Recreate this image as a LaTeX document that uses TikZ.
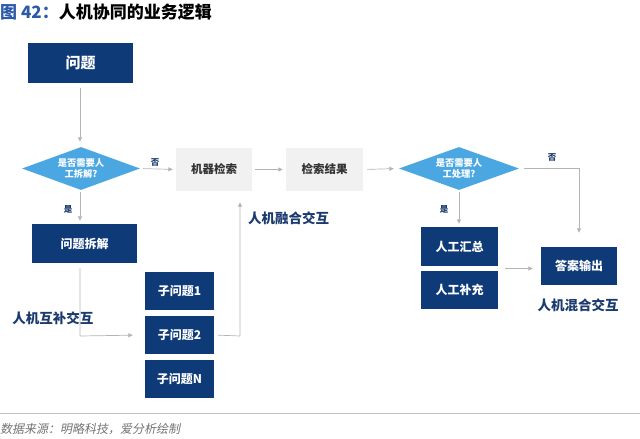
\documentclass[tikz,border=0pt]{standalone}
\usepackage{fontspec}
\setmainfont{Noto Sans CJK SC}
\newfontfamily\cjkit[FakeSlant=0.2]{Noto Sans CJK SC}
\usetikzlibrary{shapes.geometric,arrows.meta,calc}
\definecolor{navy}{HTML}{0E3B78}
\definecolor{dlblue}{HTML}{4BA7E1}
\definecolor{gbox}{HTML}{F1F1F1}
\definecolor{arrg}{HTML}{B4B4B4}
\definecolor{lblue}{HTML}{1B3A6E}
\definecolor{ttlblue}{HTML}{2B5BA8}
\begin{document}
\begin{tikzpicture}[x=1pt,y=-1pt,
  nbox/.style={rectangle,fill=navy,text=white,font=\fontsize{12}{14}\selectfont\bfseries,inner sep=0pt},
  gboxs/.style={rectangle,fill=gbox,text=black!80,font=\fontsize{11.5}{14}\selectfont\bfseries,inner sep=0pt,minimum width=76pt,minimum height=43pt},
  dia/.style={diamond,fill=dlblue,text=white,font=\fontsize{9.3}{11}\selectfont\bfseries,inner sep=0pt,aspect=2.7,align=center},
  arr/.style={draw=arrg,line width=0.7pt,-{Triangle[length=4.5pt,width=4pt]}},
  yn/.style={text=lblue,font=\fontsize{8.5}{10}\selectfont\bfseries,inner sep=0pt},
  lab/.style={text=lblue,font=\fontsize{13.5}{16}\selectfont\bfseries,inner sep=0pt}]
\useasboundingbox (0,0) rectangle (640,439);
% title
\node[anchor=west,inner sep=0pt,font=\fontsize{17}{20}\selectfont\bfseries] (title) at (0,12) {\textcolor{ttlblue}{图 42：}人机协同的业务逻辑};
% nodes
\node[nbox,minimum width=105pt,minimum height=40pt,font=\fontsize{15}{18}\selectfont\bfseries] (q) at (80.5,63) {问题};
\node[dia,minimum width=118pt,minimum height=43pt] (d1) at (81,168.5) {是否需要人\\工拆解?};
\node[gboxs] (m) at (214,169.5) {机器检索};
\node[gboxs,minimum width=77pt] (r) at (324.5,169.5) {检索结果};
\node[dia,minimum width=120pt,minimum height=43pt] (d2) at (459,168.5) {是否需要人\\工处理?};
\node[nbox,minimum width=105pt,minimum height=39pt] (s) at (84.5,243.5) {问题拆解};
\node[nbox,minimum width=69pt,minimum height=38pt] (c1) at (179.5,291) {子问题1};
\node[nbox,minimum width=69pt,minimum height=38pt] (c2) at (179.5,335) {子问题2};
\node[nbox,minimum width=69pt,minimum height=38pt] (cN) at (179.5,379) {子问题N};
\node[nbox,minimum width=77pt,minimum height=39pt] (h1) at (459.5,246.5) {人工汇总};
\node[nbox,minimum width=77pt,minimum height=38pt] (h2) at (459.5,290) {人工补充};
\node[nbox,minimum width=76pt,minimum height=38pt] (a) at (579,266) {答案输出};
% labels
\node[yn] (n1) at (155,162) {否};
\node[yn] (y1) at (68,209) {是};
\node[yn] (y2) at (444,209) {是};
\node[yn] (n2) at (552,157) {否};
\node[lab] (l1) at (53,318) {人机互补交互};
\node[lab,anchor=west] (l2) at (248,218) {人机融合交互};
\node[lab] (l3) at (578,305) {人机混合交互};
% helper coordinates
\coordinate (k1) at (80,336);
\coordinate (k2) at (240,336);
\coordinate (hm) at ($(h1.south east)!0.5!(h2.north east)$);
% connectors
\draw[arr,shorten <=5pt,shorten >=5pt] (q.south -| k1) -- (k1 |- d1.north);
\draw[arr,shorten <=3pt,shorten >=3pt] (d1.east) -- (m.west);
\draw[arr,shorten <=3pt,shorten >=3pt] (m.east) -- (r.west);
\draw[arr,shorten <=4pt,shorten >=5pt] (r.east) -- (d2.west);
\draw[arr,shorten <=2pt,shorten >=3pt] (k1 |- d1.south) -- (k1 |- s.north);
\draw[arr,shorten <=2pt,shorten >=3pt] (d2.south) -- (d2.south |- h1.north);
\draw[arr,shorten <=5pt,shorten >=12pt] (s.south -| k1) -- (k1) -- (c2.west);
\draw[arr,shorten <=4pt,shorten >=11pt] (c2.east) -- (k2) -- (k2 |- m.south);
\draw[arr,shorten <=5pt,shorten >=14pt] (d2.east) -- (a.north |- d2.east) -- (a.north);
\draw[arr,shorten <=7pt,shorten >=8pt] (hm) -- (hm -| a.west);
% footer
\draw[draw=black!25,line width=0.9pt] (0,413) coordinate (f1) -- (640,413) coordinate (f2);
\node[anchor=west,inner sep=0pt,text=black!55,font=\fontsize{12}{14}\selectfont\cjkit] (src) at (0,429) {数据来源：明略科技，爱分析绘制};
\end{tikzpicture}
\end{document}
